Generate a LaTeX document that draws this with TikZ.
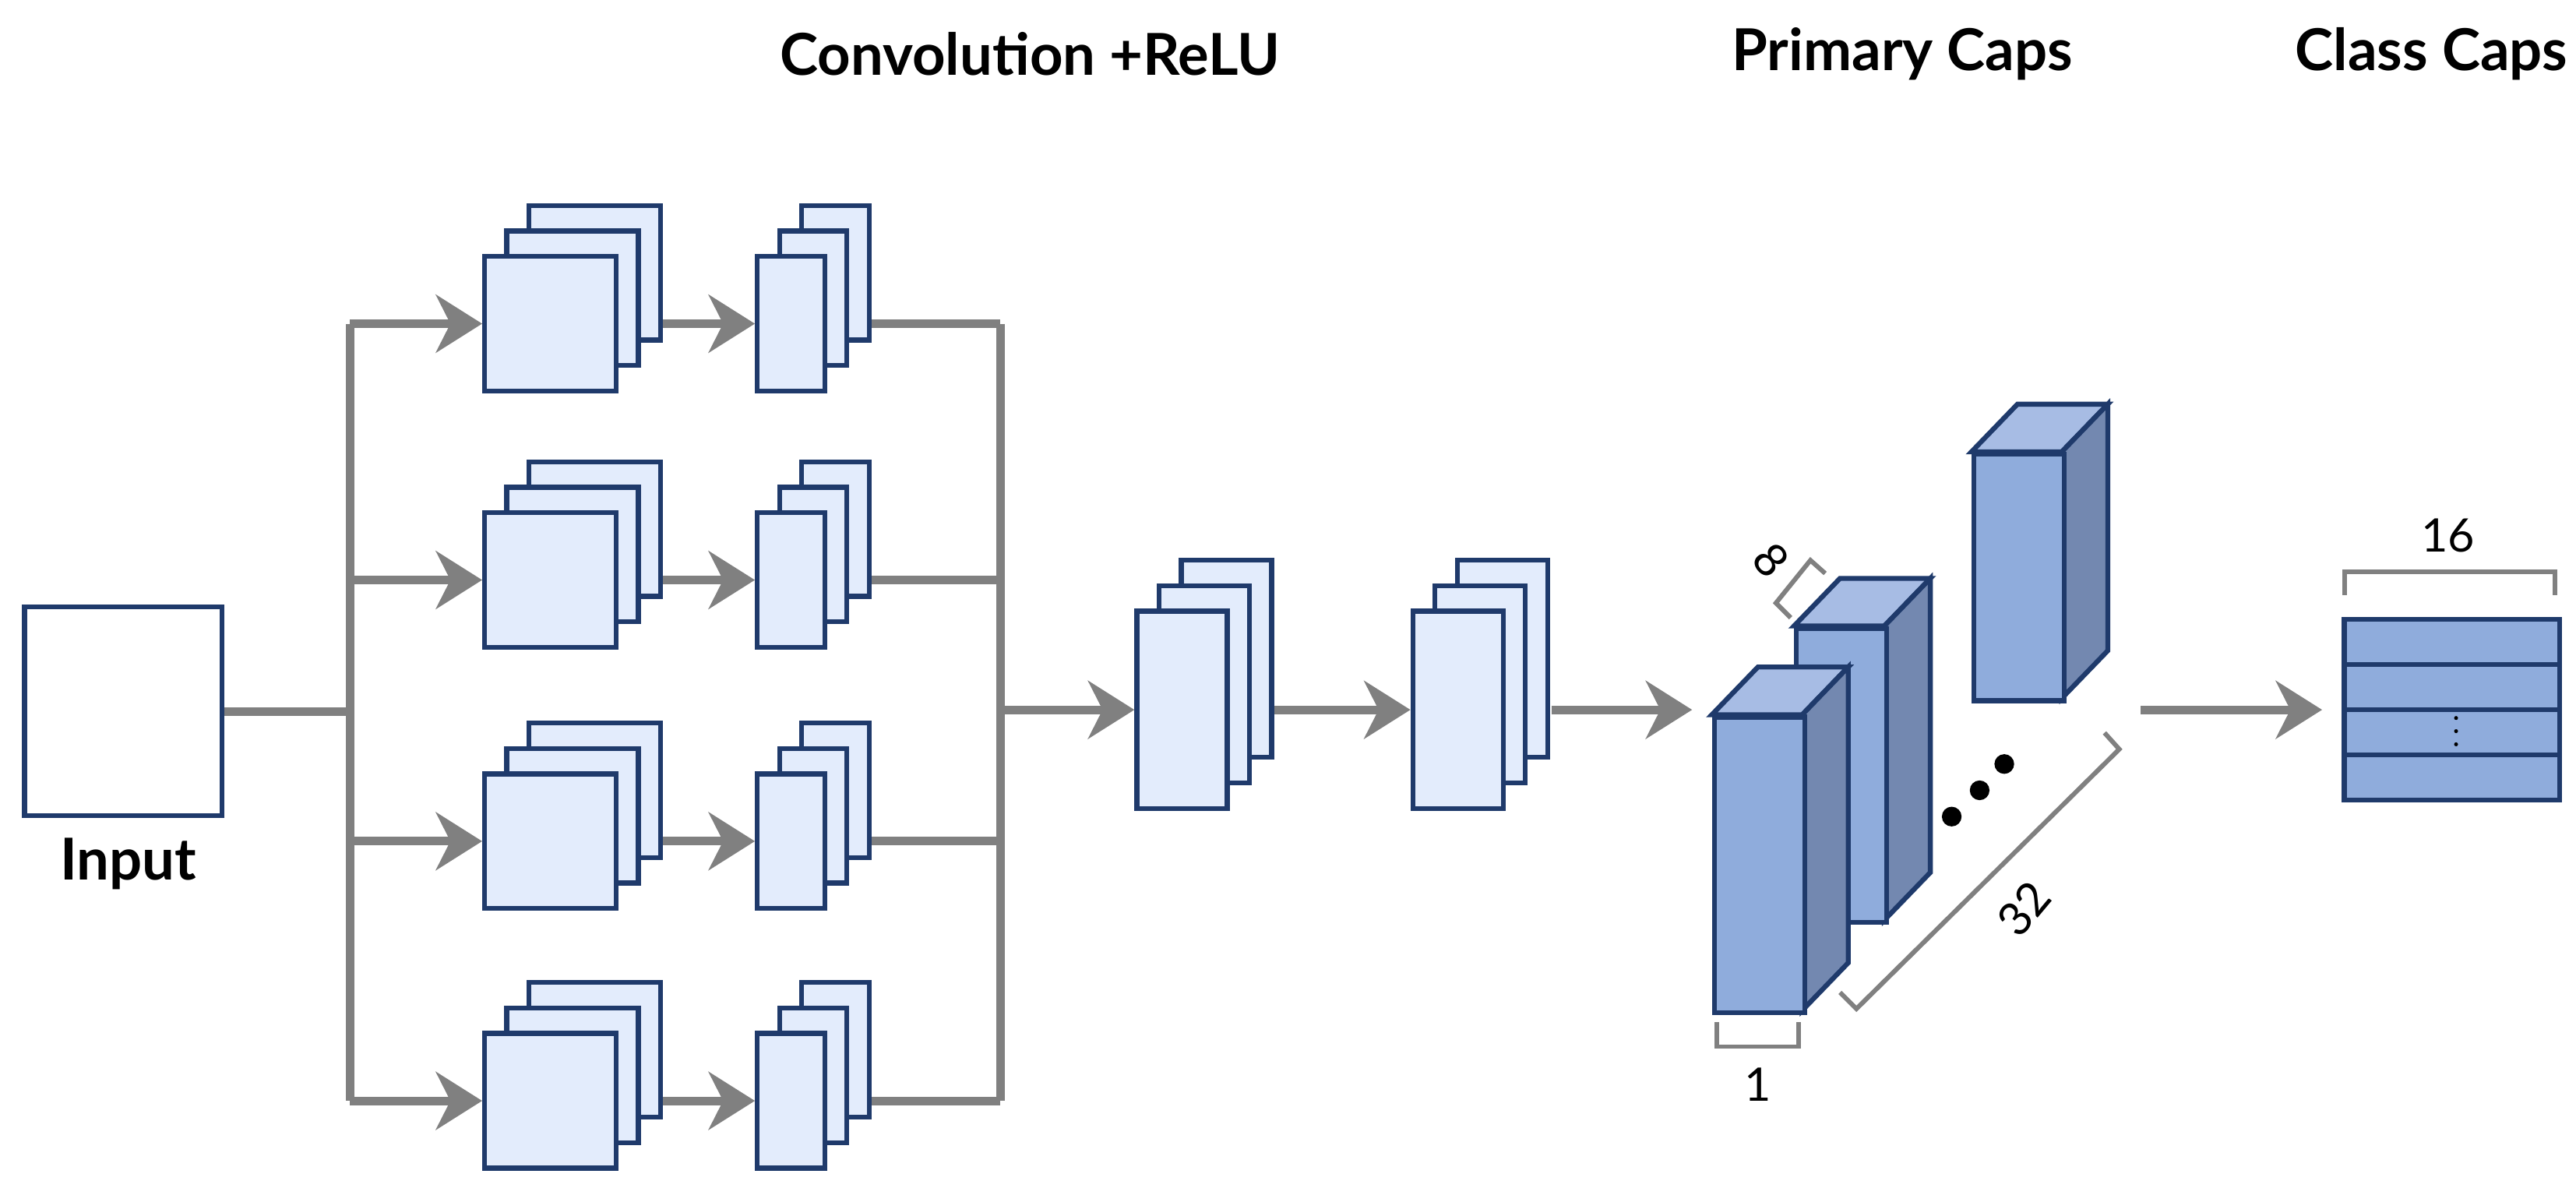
\documentclass[tikz,border=0pt]{standalone}
\usepackage{fontspec}
\setmainfont{Lato}
\usetikzlibrary{arrows.meta}
\definecolor{lfill}{HTML}{E3ECFC}
\definecolor{bord}{HTML}{1F3A6B}
\definecolor{cfront}{HTML}{8FACDC}
\definecolor{ctop}{HTML}{A7BCE4}
\definecolor{cside}{HTML}{7388B0}
\definecolor{conn}{HTML}{808080}
\tikzset{
 box/.style={draw=bord,fill=lfill,line width=0.85pt,inner sep=0pt},
 capsule/.style={draw=bord,line width=0.85pt,line join=miter},
 wire/.style={draw=conn,line width=1.5pt},
 arr/.style={wire,-{Stealth[length=8pt,width=10pt,inset=2.5pt]}},
 brk/.style={draw=conn,line width=0.8pt},
 title/.style={font=\fontsize{10}{12}\selectfont\bfseries},
 num/.style={font=\fontsize{8}{9}\selectfont},
}
\newcommand\mystack[5]{%
 \foreach \k in {2,1} \draw[box] ({#2+13.5*\k-#4/2},{#3-15.5*\k-#5/2}) rectangle ++(#4,#5);
 \node[box,minimum width=#4*0.01cm,minimum height=#5*0.01cm] (#1) at (#2,#3) {};}
\newcommand\mycuboid[5]{%
 \draw[capsule,fill=ctop] (#2,#3)--++(28,-29)--++(#4,0)--++(-28,29)--cycle;
 \draw[capsule,fill=cside] ({#2+#4},#3)--++(28,-29)--++(0,#5)--++(-28,29)--cycle;
 \node[capsule,fill=cfront,inner sep=0pt,minimum width=#4*0.01cm,minimum height=#5*0.01cm,anchor=north west] (#1) at (#2,#3) {};}
\begin{document}
\begin{tikzpicture}[x=0.01cm,y=-0.01cm]
\useasboundingbox (0,0) rectangle (1568,723);
% titles
\node[title] (t1) at (627,33) {Convolution +ReLU};
\node[title] (t2) at (1158,33) {Primary Caps};
\node[title] (t3) at (1480,33) {Class Caps};
% input
\node[draw=bord,fill=white,line width=0.85pt,minimum width=1.2cm,minimum height=1.27cm] (in) at (75,433) {};
\node[title] (inl) at (78,526) {Input};
\coordinate (j0) at (213,433);
\coordinate (jt) at (213,197);
\coordinate (jb) at (213,670);
\coordinate (mt) at (609,197);
\coordinate (mb) at (609,670);
\coordinate (mm) at (609,432);
\draw[wire] (in.east) -- (j0);
\draw[wire] (jt) -- (jb);
\draw[wire] (mt) -- (mb);
\foreach \i/\y in {1/197,2/353,3/512,4/670}{
 \mystack{A\i}{335}{\y}{80}{82}
 \mystack{B\i}{481.5}{\y}{41}{82}
 \coordinate (L\i) at (213,\y);
 \coordinate (R\i) at (609,\y);
 \draw[arr] (L\i) -- (A\i.west);
 \draw[arr] ([xshift=0.27cm]A\i.east) -- (B\i.west);
 \draw[wire] ([xshift=0.27cm]B\i.east) -- (R\i);
}
\mystack{C}{719.5}{432}{55}{120}
\mystack{D}{887.5}{432}{55}{120}
\draw[arr] (mm) -- (C.west);
\draw[arr] ([xshift=0.27cm]C.east) -- (D.west);
% capsules
\mycuboid{P3}{1200}{275}{55}{150}
\mycuboid{P2}{1092}{381}{55}{179}
\mycuboid{P1}{1042}{435}{55}{180}
\draw[arr,shorten >=0.12cm] ([xshift=0.28cm]D.east) -- (P1.west |- D.east);
\foreach \p in {(1188,497),(1205,481),(1220,465)} \fill \p circle (6);
% brackets
\draw[brk] (1045,622) -- (1045,637) -- (1095,637) -- (1095,622);
\node[num] (n1) at (1070,660) {1};
\draw[brk] (1090,376) -- (1081,367) -- (1102,341) -- (1111,349);
\node[num,rotate=-50] (n8) at (1078,341) {8};
\draw[brk] (1120,604) -- (1130,614) -- (1290,456) -- (1281,446);
\node[num,rotate=50] (n32) at (1232,553) {32};
% class caps
\node[capsule,fill=cfront,inner sep=0pt,minimum width=1.31cm,minimum height=1.10cm] (K) at (1492.5,432) {};
\draw[capsule] (K.west |- 0,404.5) -- (K.east |- 0,404.5);
\draw[capsule] (K.west |- 0,432) -- (K.east |- 0,432);
\draw[capsule] (K.west |- 0,459.5) -- (K.east |- 0,459.5);
\foreach \yy in {437,445,453} \fill (1495,\yy) circle (1.2);
\coordinate (ks) at (1303,432);
\draw[arr,shorten >=0.12cm] (ks) -- (K.west);
\draw[brk] (1427,362) -- (1427,348) -- (1555,348) -- (1555,362);
\node[num] (n16) at (1490,326) {16};
\end{tikzpicture}
\end{document}
